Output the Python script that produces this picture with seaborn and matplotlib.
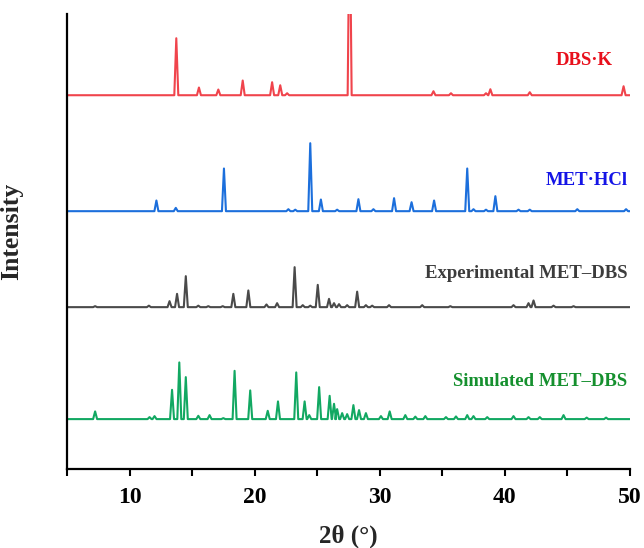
import numpy as np
import pandas as pd
import matplotlib
matplotlib.use("Agg")
import matplotlib.pyplot as plt
import seaborn as sns

# Peak positions (2θ, degrees) and relative intensities for each pattern
dbsk_pos = [13.74, 15.55, 17.1, 19.05, 21.4, 22.05, 22.6, 27.6, 34.3, 35.7, 38.5, 38.85, 42.0, 49.5]
dbsk_int = [57, 7.7, 5.7, 14.7, 13, 10, 2, 200, 4, 2, 2, 6, 3, 9]

methcl_pos = [12.15, 13.7, 17.55, 22.7, 23.25, 24.45, 25.3, 26.6, 28.3, 29.5, 31.15, 32.55,
              34.35, 37.0, 37.5, 38.5, 39.25, 41.1, 42.0, 45.8, 49.7]
methcl_int = [10.7, 3.3, 42.7, 2, 1.5, 68, 11.7, 1.5, 12, 2, 13, 9,
              10.7, 42.7, 2, 1.5, 15, 1.5, 1.5, 2, 2]

exp_pos = [7.25, 11.55, 13.2, 13.8, 14.5, 15.5, 16.3, 17.45, 18.3, 19.5, 20.95, 21.8, 23.2,
           23.85, 24.45, 25.05, 25.95, 26.35, 26.75, 27.4, 28.2, 28.9, 29.4, 30.75, 33.4,
           35.65, 40.7, 41.9, 42.3, 43.9, 45.5]
exp_int = [1, 1.5, 6, 13.3, 31, 1.5, 1, 1, 13.3, 16.7, 2.7, 4, 40,
           2, 1.5, 22.3, 8.3, 4, 3, 2, 15.5, 2, 1.5, 2, 2,
           1, 2, 4, 6.7, 1.5, 1]

sim_pos = [7.25, 11.6, 12.0, 13.4, 13.98, 14.5, 15.5, 16.4, 17.5, 18.4, 19.65, 21.05, 21.87,
           23.33, 24.0, 24.37, 25.16, 26.0, 26.35, 26.6, 27.0, 27.4, 27.9, 28.35, 28.9, 30.1,
           30.8, 32.05, 32.85, 33.65, 35.3, 36.1, 37.0, 37.5, 38.6, 40.7, 41.9, 42.8, 44.7,
           46.55, 48.1]
sim_int = [7.7, 2, 3, 29.3, 56.7, 42, 3.3, 4, 1, 48.3, 28.7, 8.3, 17.7,
           46.7, 17.7, 4, 32, 23.3, 15.3, 10, 6, 5, 14, 9, 6, 3,
           7.7, 4, 2.5, 3, 2, 2.7, 4, 3, 2, 3, 2, 2, 4,
           1.5, 1.5]

names = ["DBS·K", "MET·HCl", "Experimental MET–DBS", "Simulated MET–DBS"]
baselines = [374, 258, 162, 50]
line_colors = ["#F0444C", "#1C6FDC", "#4A4A4A", "#12A862"]
text_colors = ["#E8101C", "#1414E6", "#3C3C3C", "#15902E"]
label_x = [48.6, 49.8, 49.8, 49.8]
label_y = [409, 289, 196, 88]

X_MIN, X_MAX = 5, 50
HALF_WIDTH = 0.16


def profile(pos, inten, base):
    """Stick pattern drawn as narrow triangular peaks on a flat baseline."""
    xs, ys = [X_MIN], [base]
    for p, h in sorted(zip(pos, inten)):
        xs += [p - HALF_WIDTH, p, p + HALF_WIDTH]
        ys += [base, base + h, base]
    xs.append(X_MAX)
    ys.append(base)
    return pd.DataFrame({"two_theta": xs, "intensity": ys})


sns.set_style("ticks")
plt.rcParams["font.family"] = ["Liberation Serif", "DejaVu Serif"]
plt.rcParams["font.weight"] = "bold"

fig = plt.figure(figsize=(6.44, 5.48), dpi=100)
ax = fig.add_axes([0.104, 0.144, 0.874, 0.830])

patterns = [(dbsk_pos, dbsk_int), (methcl_pos, methcl_int), (exp_pos, exp_int), (sim_pos, sim_int)]
for (pos, inten), base, lc, tc, name, lx, ly in zip(patterns, baselines, line_colors, text_colors,
                                                      names, label_x, label_y):
    df = profile(pos, inten, base)
    sns.lineplot(data=df, x="two_theta", y="intensity", ax=ax, color=lc, lw=1.5,
                 sort=False, estimator=None)
    ax.text(lx, ly, name, color=tc, fontsize=13.5, fontweight="bold", ha="right", va="center")

ax.set_xlim(X_MIN, X_MAX)
ax.set_ylim(0, 455)
ax.set_xticks([10, 20, 30, 40, 50])
ax.set_xticks([5, 15, 25, 35, 45], minor=True)
ax.set_yticks([])
ax.tick_params(axis="x", which="both", direction="out", length=5, width=1.5, colors="black",
               labelsize=17, pad=8)
for lab in ax.get_xticklabels():
    lab.set_fontweight("bold")
ax.set_xlabel("2θ (°)", fontsize=18, fontweight="bold", labelpad=12)
ax.set_ylabel("Intensity", fontsize=18.5, fontweight="bold")
ax.yaxis.set_label_coords(-0.078, 0.523)
for side in ["top", "right"]:
    ax.spines[side].set_visible(False)
for side in ["left", "bottom"]:
    ax.spines[side].set_linewidth(1.6)
    ax.spines[side].set_color("black")

fig.savefig("out.png", dpi=100)
